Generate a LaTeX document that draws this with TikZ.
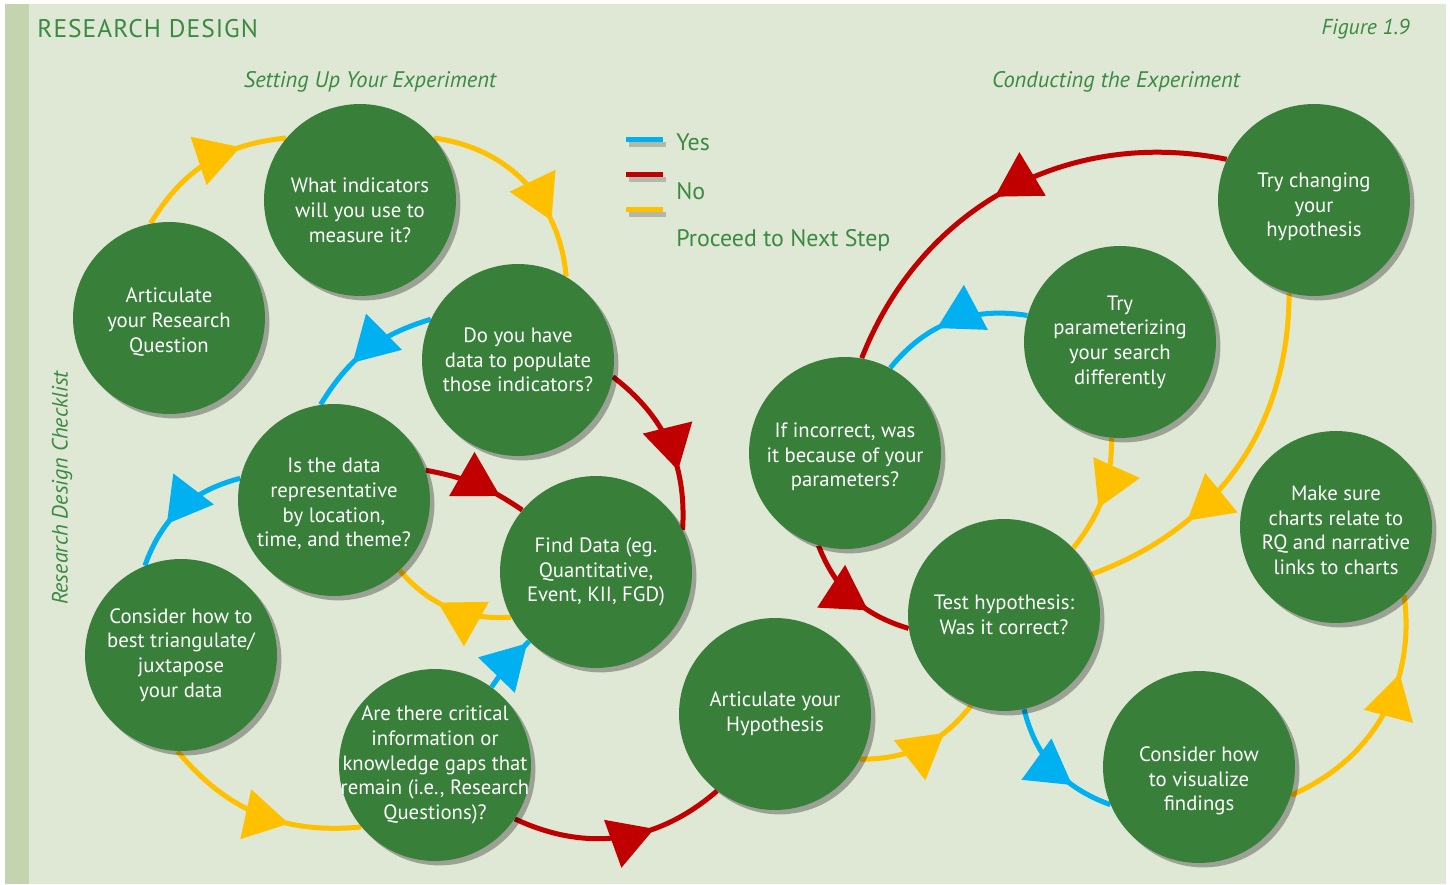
\documentclass[tikz,border=0pt]{standalone}
\usepackage{fontspec}
\setmainfont{PT Sans}
\usetikzlibrary{arrows.meta,decorations.markings,shadows}

\definecolor{pagebg}{HTML}{DFE7D5}
\definecolor{stripbg}{HTML}{C4D4AE}
\definecolor{stepgreen}{HTML}{38803A}
\definecolor{headgreen}{HTML}{3A8A40}
\definecolor{yesblue}{HTML}{00B0F0}
\definecolor{nored}{HTML}{C00000}
\definecolor{nextyellow}{HTML}{FFC000}

\newcommand{\padtop}[1]{\rule{0pt}{#1}}

\pgfdeclarelayer{bg}
\pgfdeclarelayer{edges}
\pgfsetlayers{bg,edges,main}

\tikzset{
  stepnode/.style={circle,fill=stepgreen,text=white,minimum size=3.84cm,inner sep=-14pt,align=center,
    font=\fontsize{11.8}{14}\selectfont,
    drop shadow={shadow xshift=2.5pt,shadow yshift=-2.5pt,opacity=0.3,fill=black}},
  headtext/.style={text=headgreen,inner sep=0pt},
  flow/.style={line width=0.1cm},
  yesline/.style={flow,yesblue},
  noline/.style={flow,nored},
  nextline/.style={flow,nextyellow},
  arrowat/.style={postaction={decorate,decoration={markings,
    mark=at position #1 with {\arrow{Triangle[width=1.02cm,length=0.88cm,line width=0pt]}}}}},
  arrowat/.default=0.65
}

\begin{document}
\begin{tikzpicture}[x=0.02cm,y=0.02cm]
  \useasboundingbox (0,0) rectangle (1450,-885);
  \begin{pgfonlayer}{bg}
    \fill[white] (0,0) rectangle (1450,-885);
    \fill[pagebg] (5,-4) rectangle (1446,-884);
    \fill[stripbg] (5,-4) rectangle (29,-884);
  \end{pgfonlayer}
  % headings
  \node[headtext,anchor=west,font=\fontsize{14.5}{17}\selectfont\addfontfeatures{LetterSpace=4}] (title) at (37,-29) {RESEARCH DESIGN};
  \node[headtext,anchor=east,font=\fontsize{12.3}{15}\selectfont\itshape] (figno) at (1410,-29) {Figure 1.9};
  \node[headtext,font=\fontsize{12.8}{16}\selectfont\itshape] (setup) at (370,-82) {Setting Up Your Experiment};
  \node[headtext,font=\fontsize{12.8}{16}\selectfont\itshape] (conduct) at (1116,-82) {Conducting the Experiment};
  \node[headtext,rotate=90,font=\fontsize{12.6}{16}\selectfont\itshape] (side) at (62,-488) {Research Design Checklist};
  % legend
  \foreach \ly/\lc in {140/yesblue,175/nored,210/nextyellow}{
    \draw[line width=0.1cm,black,opacity=0.2] (629,-\ly-5) -- (666,-\ly-5);
    \draw[line width=0.1cm,\lc] (626,-\ly) -- (663,-\ly);
  }
  \node[headtext,anchor=west,font=\fontsize{13.6}{16}\selectfont] (yes) at (676,-142) {Yes};
  \node[headtext,anchor=west,font=\fontsize{13.6}{16}\selectfont] (no) at (676,-191) {No};
  \node[headtext,anchor=west,font=\fontsize{13.6}{16}\selectfont] (next) at (676,-240) {Proceed to Next Step};
  % setting up
  \node[stepnode] (rq) at (169,-318) {\padtop{13pt}Articulate\\your Research\\Question};
  \node[stepnode] (ind) at (360,-200) {\padtop{20pt}What indicators\\will you use to\\measure it?};
  \node[stepnode] (data) at (518,-360) {Do you have\\data to populate\\those indicators?};
  \node[stepnode] (rep) at (334,-500) {\padtop{13pt}Is the data\\representative\\by location,\\time, and theme?};
  \node[stepnode] (find) at (596,-572) {Find Data (eg.\\Quantitative,\\Event, KII, FGD)};
  \node[stepnode] (tri) at (181,-655) {Consider how to\\best triangulate/\\juxtapose\\your data};
  \node[stepnode] (gaps) at (435,-765) {Are there critical\\information or\\knowledge gaps that\\remain (i.e., Research\\Questions)?};
  \node[stepnode] (hyp) at (775,-714) {Articulate your\\Hypothesis};
  % conducting
  \node[stepnode] (ifwrong) at (845,-453) {\padtop{13pt}If incorrect, was\\it because of your\\parameters?};
  \node[stepnode] (param) at (1120,-342) {Try\\parameterizing\\your search\\differently};
  \node[stepnode] (change) at (1314,-200) {\padtop{16.5pt}Try changing\\your\\hypothesis};
  \node[stepnode] (test) at (1004,-615) {Test hypothesis:\\Was it correct?};
  \node[stepnode] (charts) at (1336,-527) {\padtop{12pt}Make sure\\charts relate to\\RQ and narrative\\links to charts};
  \node[stepnode] (vis) at (1199,-767) {\padtop{24.5pt}Consider how\\to visualize\\findings};
  \begin{pgfonlayer}{edges}
    \draw[nextline,arrowat=0.72] (rq.101) to[bend left=27] (ind.140);
    \draw[nextline,arrowat=0.72] (ind.40) to[bend left=39] (data.60);
    \draw[yesline,arrowat=0.63] (data.155) to[bend right=21] (rep.98);
    \draw[noline,arrowat=0.66] (data.350) to[bend left=28] (find.26);
    \draw[noline,arrowat=0.75] (rep.18) to[bend left=12] (find.140);
    \draw[yesline,arrowat] (rep.167) to[bend right=28] (tri.112);
    \draw[nextline,arrowat=0.6] (find.208) to[bend left=26] (rep.313);
    \draw[yesline,arrowat=0.95] (gaps.54) to[bend left=5] (find.226);
    \draw[nextline,arrowat] (tri.268) to[bend right=28] (gaps.220);
    \draw[noline,arrowat=0.66] (gaps.326) to[bend right=33] (hyp.233);
    \draw[nextline,arrowat=0.7] (hyp.332) to[bend right=26] (test.250);
    \draw[noline,arrowat] (ifwrong.254) to[bend right=26] (test.188);
    \draw[noline,arrowat=0.53] (change.155) to[bend right=40] (ifwrong.80);
    \draw[yesline,arrowat=0.6] (param.164) to[bend right=30] (ifwrong.62);
    \draw[nextline,arrowat=0.6] (param.265) to[bend left=19] (test.44);
    \draw[nextline,arrowat=0.7] (change.255) to[bend left=35] (test.25);
    \draw[yesline,arrowat=0.68] (test.282) to[bend right=28] (vis.203);
    \draw[nextline,arrowat=0.68] (vis.343) to[bend right=37] (charts.315);
  \end{pgfonlayer}
\end{tikzpicture}
\end{document}
